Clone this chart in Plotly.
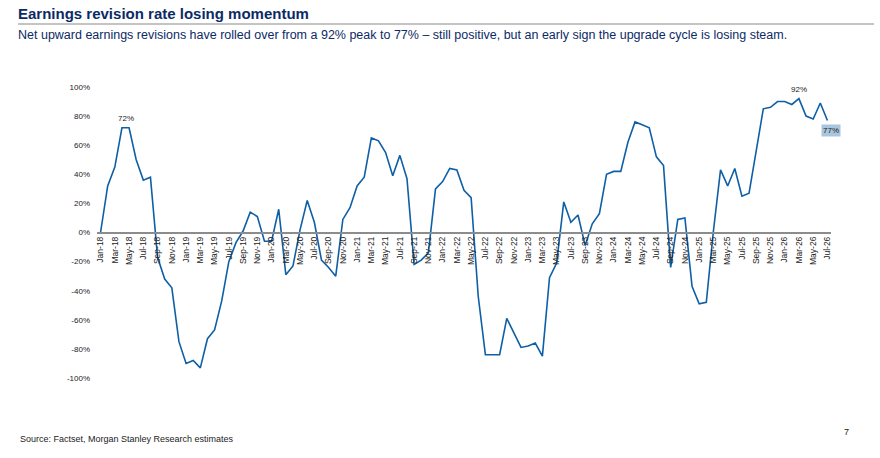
import pandas as pd
import plotly.graph_objs as go

# monthly net upward earnings revision rate, Jan-18 .. Jul-26 (%)
months = pd.date_range("2018-01-01", "2026-07-01", freq="MS").strftime("%b-%y").tolist()
revision_rate = [
    0, 32, 45, 72, 72, 50, 36, 38, -17, -32, -38, -75,
    -90, -88, -93, -73, -67, -47, -20, -7, 1, 14, 11, -6,
    -6, 16, -29, -23, 2, 22, 7, -19, -24, -30, 9, 17,
    32, 38, 65, 63, 55, 39, 53, 37, -22, -19, -14, 30,
    35, 44, 43, 29, 24, -44, -84, -84, -84, -59, -69, -79,
    -78, -76, -85, -31, -21, 21, 7, 12, -9, 6, 13, 40,
    42, 42, 62, 76, 74, 72, 52, 46, -24, 9, 10, -37,
    -49, -48, 1, 43, 32, 44, 25, 27, 56, 85, 86, 90,
    90, 88, 92, 80, 78, 89, 77,
]
tick_labels = months[::2]
y_ticks = [-100, -80, -60, -40, -20, 0, 20, 40, 60, 80, 100]
y_tick_text = [f"{v}%" for v in y_ticks]

W, H = 880, 458
ML, MT = 97, 87
MR = W - 831
MB = H - 378
PW, PH = W - ML - MR, H - MT - MB


def px(x):
    # window pixel -> paper x
    return (x - ML) / PW


def py(y):
    # window pixel -> paper y
    return (H - MB - y) / PH


navy = "#0c2a66"
line_blue = "#0f5fa6"
narrow = "Liberation Sans Narrow, Arial Narrow, Liberation Sans, Arial"
sans = "Liberation Sans, Arial, sans-serif"

fig = go.Figure()
fig.add_trace(go.Scatter(x=months, y=revision_rate, mode="lines",
                         line=dict(color=line_blue, width=1.6),
                         hoverinfo="x+y", showlegend=False))

fig.update_layout(
    width=W, height=H,
    margin=dict(l=ML, r=MR, t=MT, b=MB),
    paper_bgcolor="white", plot_bgcolor="white",
    xaxis=dict(type="category", range=[-0.5, len(months) - 0.5],
               anchor="free", position=0.5,
               showline=True, linecolor="#8c8c8c", linewidth=1.5,
               showgrid=False, zeroline=False,
               tickmode="array", tickvals=tick_labels, ticktext=tick_labels,
               tickangle=-90, ticks="",
               tickfont=dict(family=narrow, size=8.5, color="#222222")),
    yaxis=dict(range=[-100, 100], tickmode="array",
               tickvals=y_ticks, ticktext=y_tick_text,
               showgrid=False, zeroline=False, showline=False,
               ticks="", ticklabelstandoff=6,
               tickfont=dict(family=narrow, size=8, color="#222222")),
)

annotations = [
    dict(x=px(16), y=py(13.5), xref="paper", yref="paper", xanchor="left", yanchor="middle",
         text="<b>Earnings revision rate losing momentum</b>", showarrow=False,
         font=dict(family=sans, size=15, color=navy)),
    dict(x=px(16), y=py(35), xref="paper", yref="paper", xanchor="left", yanchor="middle",
         text="Net upward earnings revisions have rolled over from a 92% peak to 77% \u2013 "
              "still positive, but an early sign the upgrade cycle is losing steam.",
         showarrow=False, font=dict(family=sans, size=12.5, color=navy)),
    dict(x=px(18), y=py(439), xref="paper", yref="paper", xanchor="left", yanchor="middle",
         text="Source: Factset, Morgan Stanley Research estimates", showarrow=False,
         font=dict(family=narrow, size=9, color="#222222")),
    dict(x=px(846), y=py(432), xref="paper", yref="paper", xanchor="center", yanchor="middle",
         text="7", showarrow=False, font=dict(family=narrow, size=9, color="#222222")),
    dict(x="Apr-18", y=72, xshift=4, yshift=3, yanchor="bottom", text="72%", showarrow=False,
         font=dict(family=narrow, size=8, color="#222222")),
    dict(x="Mar-26", y=92, yshift=3, yanchor="bottom", text="92%", showarrow=False,
         font=dict(family=narrow, size=8, color="#222222")),
    dict(x="Jul-26", y=77, xshift=4, yshift=-4, yanchor="top", text="77%", showarrow=False,
         bgcolor="#a8c6de", borderpad=1,
         font=dict(family=narrow, size=8, color="#222222")),
]
fig.update_layout(annotations=annotations)

# rule under the heading
fig.add_shape(type="line", xref="paper", yref="paper",
              x0=px(18), x1=px(874), y0=py(24), y1=py(24),
              line=dict(color="#b0b0b0", width=1.5))

# drop the default body margin so the figure fills the window exactly
fig.write_html("out.html", config={"displayModeBar": False},
               post_script="document.body.style.margin = '0';")
